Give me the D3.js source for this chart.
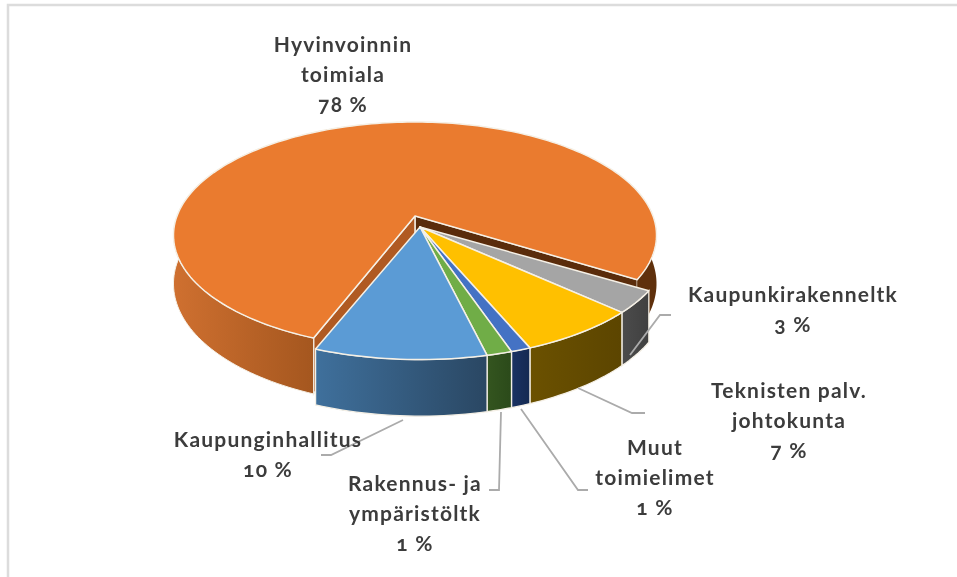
<!DOCTYPE html>
<html>
<head>
<meta charset="utf-8">
<script src="https://cdn.jsdelivr.net/npm/d3@7"></script>
<style>
  html, body { margin: 0; padding: 0; background: #fff; }
  svg { filter: blur(0.45px); }
  text { font-family: Lato, "Open Sans", sans-serif; font-weight: 700; font-size: 21px; letter-spacing: 1.2px; fill: #3c3c3c; font-feature-settings: "onum"; text-anchor: middle; }
</style>
</head>
<body>
<div id="container"></div>
<script>
/* DATA - clockwise from the orange slice, slice sizes, labels show them rounded */
const sliceNames = ["Hyvinvoinnin toimiala", "Kaupunkirakenneltk", "Teknisten palv. johtokunta", "Muut toimielimet", "Rakennus- ja ympäristöltk", "Kaupunginhallitus"];
const sliceValues = [78, 3.2, 6.8, 1.1, 1.4, 9.5];
const labelLines = [["Hyvinvoinnin", "toimiala"], ["Kaupunkirakenneltk"], ["Teknisten palv.", "johtokunta"], ["Muut", "toimielimet"], ["Rakennus- ja", "ympäristöltk"], ["Kaupunginhallitus"]];

/* LOOKS */
const topColors = ["#ea7b2f", "#a5a5a5", "#ffc000", "#4472c4", "#70ad47", "#5b9bd5"];
const wallColors = [["#cf7030", "#a5571f"], ["#4c4c4c", "#404040"], ["#6b5100", "#5c4500"], ["#1b3263", "#152a52"], ["#34551f", "#2b4a1a"], ["#3f709c", "#2a4763"]];
const edgeColor = "#f5f0e6";
const leaderColor = "#ababab";

/* LAYOUT */
const width = 957, height = 577;
const center = {x: 420, y: 227}; // apex of the slices that stay in place
const explode = {x: -5, y: -11, sx: 1}; // the orange slice is pulled out
const stay = {x: 0, y: 0, sx: 1.03}; // the others come out a bit wider
const rx = 238, ry = 110, persp = 0.17, depth = 47; // disc shape
const pieStart = 201 * Math.PI / 180;
const labelPos = [
  {x: 343, y: 52, dy: 30}, {x: 793, y: 302, dy: 30}, {x: 789, y: 398, dy: 30},
  {x: 655, y: 455, dy: 30}, {x: 415, y: 491, dy: 30}, {x: 268, y: 447, dy: 30}
];
// leader lines: start at the pie edge, elbow, end next to the label
const leaders = [
  {from: [630, 355], elbow: [660, 315], end: [671, 315]},
  {from: [578, 388], elbow: [632, 413], end: [645, 413]},
  {from: [521, 409], elbow: [578, 490], end: [588, 490]},
  {from: [501, 412], elbow: [499, 490], end: [489, 490]},
  {from: [403, 420], elbow: [331, 455], end: [321, 455]}
];

const svg = d3.select("#container").append("svg")
  .attr("width", width)
  .attr("height", height)
  .style("display", "block");

// frame of the pasted chart, only top and left show
svg.append("path")
  .attr("d", d3.line()([[8, height + 4], [8, 5], [width + 4, 5]]))
  .attr("fill", "none")
  .attr("stroke", "#dcdcdc")
  .attr("stroke-width", 2.5);

// the pie layout gives the angles, clockwise from north
const pie = d3.pie().value(d => d).sort(null).startAngle(pieStart).endAngle(pieStart + 2 * Math.PI);
const slices = pie(sliceValues);

// project a point of the disc (angle, radius 0..1) to the screen, with some perspective
function project(angle, r, lift, off) {
  const X = Math.sin(angle) * r;
  const Y = -Math.cos(angle) * r;
  const s = 1 / (1 - persp * Y);
  return [center.x + off.x + rx * off.sx * X * s, center.y + off.y + ry * Y * s + lift * s];
}

function arcPoints(a0, a1, lift, off) {
  const n = Math.max(2, Math.ceil((a1 - a0) * 40));
  return d3.range(n + 1).map(i => project(a0 + (a1 - a0) * i / n, 1, lift, off));
}

const line = d3.line();
const defs = svg.append("defs");

slices.forEach((d, i) => {
  const xs = arcPoints(d.startAngle, d.endAngle, 0, i == 0 ? explode : stay).map(p => p[0]);
  const grad = defs.append("linearGradient")
    .attr("id", "wall" + i)
    .attr("gradientUnits", "userSpaceOnUse")
    .attr("x1", d3.min(xs)).attr("x2", i == 0 ? 312 : d3.max(xs))
    .attr("y1", 0).attr("y2", 0);
  grad.append("stop").attr("offset", 0).attr("stop-color", wallColors[i][0]);
  grad.append("stop").attr("offset", 1).attr("stop-color", wallColors[i][1]);
});

// orange slice goes first: back cut, left cut, outer wall, top
const orange = slices[0];
const o0 = project(0, 0, 0, explode), o0low = project(0, 0, depth, explode);
const oL = project(orange.startAngle, 1, 0, explode), oLlow = project(orange.startAngle, 1, depth, explode);
const oR = project(orange.endAngle, 1, 0, explode), oRlow = project(orange.endAngle, 1, depth, explode);

svg.append("path")
  .attr("d", line([o0, oR, oRlow, o0low]) + "Z")
  .attr("fill", "#5a2c0b")
  .attr("stroke", edgeColor).attr("stroke-width", 1.2);
svg.append("path")
  .attr("d", line([o0, oL, oLlow, o0low]) + "Z")
  .attr("fill", "#b05a22")
  .attr("stroke", edgeColor).attr("stroke-width", 1.5);

function wall(d, off) {
  const top = arcPoints(d.startAngle, d.endAngle, 0, off);
  const low = arcPoints(d.startAngle, d.endAngle, depth, off).reverse();
  return line(top.concat(low)) + "Z";
}

// right hand part of the orange wall is much darker
svg.append("path")
  .attr("d", wall({startAngle: orange.startAngle, endAngle: orange.startAngle + Math.PI}, explode))
  .attr("fill", "url(#wall0)")
  .attr("stroke", edgeColor).attr("stroke-width", 1);
svg.append("path")
  .attr("d", wall({startAngle: orange.endAngle - Math.PI / 3, endAngle: orange.endAngle}, explode))
  .attr("fill", "#5f300c");

function topFace(d, off) {
  return line([project(0, 0, 0, off)].concat(arcPoints(d.startAngle, d.endAngle, 0, off))) + "Z";
}

svg.append("path")
  .attr("d", topFace(orange, explode))
  .attr("fill", topColors[0])
  .attr("stroke", edgeColor).attr("stroke-width", 1.5)
  .attr("stroke-linejoin", "round");

// the slices that stay in place: walls first, tops after
const rest = slices.slice(1);

svg.selectAll("path.wall")
  .data(rest)
  .enter()
  .append("path")
  .attr("class", "wall")
  .attr("d", d => wall(d, stay))
  .attr("fill", (d, i) => "url(#wall" + (i + 1) + ")")
  .attr("stroke", edgeColor).attr("stroke-width", 1.3);

svg.selectAll("path.top")
  .data(rest)
  .enter()
  .append("path")
  .attr("class", "top")
  .attr("d", d => topFace(d, stay))
  .attr("fill", (d, i) => topColors[i + 1])
  .attr("stroke", edgeColor).attr("stroke-width", 1.5)
  .attr("stroke-linejoin", "round");

// leader lines
svg.selectAll("path.leader")
  .data(leaders)
  .enter()
  .append("path")
  .attr("class", "leader")
  .attr("d", d => line([d.from, d.elbow, d.end]))
  .attr("fill", "none")
  .attr("stroke", leaderColor)
  .attr("stroke-width", 1.8);

// labels, name lines and then the percent
const labels = svg.selectAll("g.label")
  .data(sliceValues)
  .enter()
  .append("g")
  .attr("class", "label");

labels.each(function(v, i) {
  const lines = labelLines[i].concat([Math.round(v) + " %"]);
  d3.select(this).selectAll("text")
    .data(lines)
    .enter()
    .append("text")
    .attr("x", labelPos[i].x)
    .attr("y", (t, j) => labelPos[i].y + j * labelPos[i].dy)
    .text(t => t);
});
</script>
</body>
</html>
